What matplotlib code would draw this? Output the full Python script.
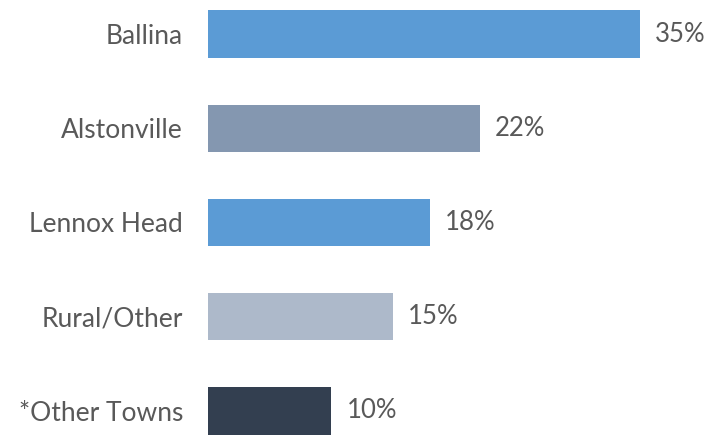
import matplotlib.pyplot as plt

# Share of respondents by town
towns = ['Ballina', 'Alstonville', 'Lennox Head', 'Rural/Other', '*Other Towns']
shares = [35, 22, 18, 15, 10]
bar_colors = ['#5B9BD5', '#8497B0', '#5B9BD5', '#ADB9CA', '#333F50']

text_color = '#595959'
plt.rcParams['font.family'] = ['Lato', 'DejaVu Sans']

fig = plt.figure(figsize=(7.22, 4.4), dpi=100)
ax = fig.add_axes([208 / 722, 0, 1 - 208 / 722, 1])

ypos = list(range(len(towns)))
ax.barh(ypos, shares, height=0.5, color=bar_colors)

for y, v in zip(ypos, shares):
    ax.annotate(f'{v}%', xy=(v, y), xytext=(15, 0), textcoords='offset pixels',
                va='center', ha='left', fontsize=18.5, color=text_color)

ax.set_yticks(ypos)
ax.set_yticklabels(towns, fontsize=19, color=text_color)
ax.tick_params(axis='y', length=0, pad=18)
ax.set_xticks([])
ax.set_xlim(0, 41.65)
ax.set_ylim(4.308, -0.361)
for s in ax.spines.values():
    s.set_visible(False)

fig.savefig('out.png', dpi=100)
plt.close(fig)
